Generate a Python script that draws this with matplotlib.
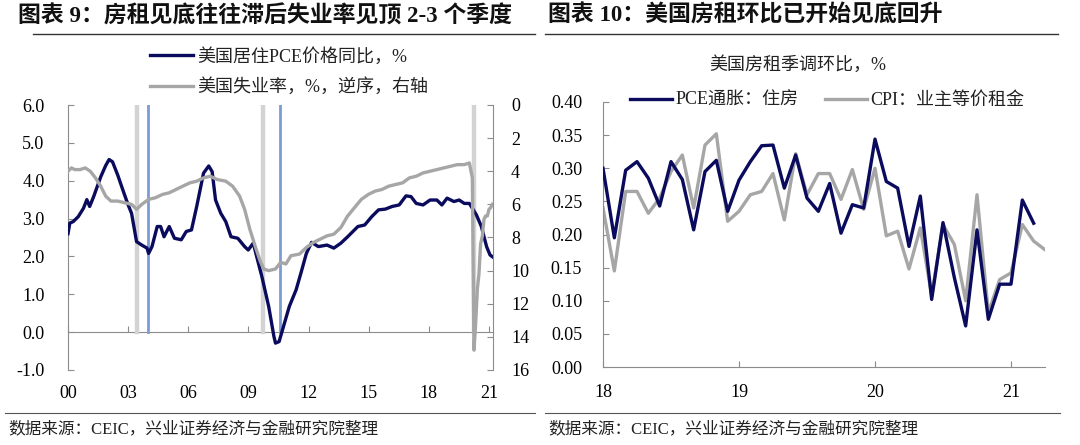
import matplotlib
matplotlib.use('Agg')
import matplotlib.pyplot as plt
from matplotlib.lines import Line2D
from matplotlib.ticker import FormatStrFormatter

CJK = 'Noto Sans CJK SC'
SERIF = 'Liberation Serif'
plt.rcParams['font.family'] = [SERIF, CJK]

NAVY = '#0b0b5e'
GRAY = '#a6a6a6'
AXIS_GRAY = '#8c8c8c'
BAND_GRAY = '#d3d3d3'
BAND_BLUE = '#7d9bd3'

# ---- 图表9: PCE housing yoy (left axis) and unemployment (right axis, inverted) ----
pce_years = [2000.00, 2000.09, 2000.26, 2000.51, 2000.77, 2000.94, 2001.08, 2001.28, 2001.63,
             2001.88, 2002.05, 2002.22, 2002.48, 2002.74, 2003.00, 2003.17, 2003.42, 2003.68,
             2003.94, 2004.02, 2004.19, 2004.45, 2004.62, 2004.79, 2005.05, 2005.31, 2005.65,
             2005.90, 2006.16, 2006.42, 2006.76, 2007.02, 2007.19, 2007.36, 2007.62, 2007.87,
             2008.13, 2008.47, 2008.81, 2008.99, 2009.24, 2009.41, 2009.67, 2010.01, 2010.27,
             2010.35, 2010.53, 2010.70, 2011.04, 2011.38, 2011.64, 2011.89, 2012.15, 2012.49,
             2012.92, 2013.26, 2013.61, 2013.95, 2014.46, 2014.80, 2015.15, 2015.49, 2015.83,
             2016.17, 2016.52, 2016.86, 2017.11, 2017.37, 2017.71, 2018.06, 2018.40, 2018.65,
             2018.91, 2019.25, 2019.51, 2019.77, 2020.02, 2020.37, 2020.62, 2020.88, 2021.05,
             2021.20]
pce_yoy = [2.60, 2.88, 2.92, 3.05, 3.27, 3.50, 3.32, 3.58, 4.10,
           4.40, 4.56, 4.50, 4.15, 3.75, 3.36, 3.14, 2.39, 2.30,
           2.22, 2.08, 2.26, 2.79, 2.79, 2.52, 2.79, 2.48, 2.44,
           2.66, 2.70, 3.32, 4.20, 4.39, 4.24, 3.49, 3.14, 2.92,
           2.52, 2.48, 2.26, 2.17, 2.35, 2.00, 1.47, 0.68, -0.11,
           -0.29, -0.25, 0.06, 0.68, 1.12, 1.60, 2.08, 2.37, 2.26,
           2.30, 2.22, 2.35, 2.52, 2.79, 2.83, 3.05, 3.23, 3.25,
           3.32, 3.36, 3.60, 3.58, 3.40, 3.36, 3.49, 3.49, 3.36,
           3.54, 3.45, 3.49, 3.40, 3.40, 3.10, 2.79, 2.26, 2.04,
           1.98]

unemp_years = [2000.00, 2000.17, 2000.34, 2000.60, 2000.86, 2001.11, 2001.37, 2001.63, 2001.88,
               2002.14, 2002.48, 2002.82, 2003.17, 2003.42, 2003.68, 2004.02, 2004.36, 2004.71,
               2005.05, 2005.39, 2005.73, 2006.08, 2006.42, 2006.76, 2007.10, 2007.44, 2007.87,
               2008.21, 2008.56, 2008.81, 2009.07, 2009.33, 2009.58, 2009.76, 2010.01, 2010.35,
               2010.61, 2010.87, 2011.12, 2011.55, 2011.89, 2012.24, 2012.58, 2012.92, 2013.26,
               2013.61, 2013.95, 2014.29, 2014.63, 2014.98, 2015.32, 2015.66, 2016.00, 2016.34,
               2016.69, 2017.03, 2017.37, 2017.71, 2018.06, 2018.40, 2018.74, 2019.08, 2019.42,
               2019.77, 2020.02, 2020.17, 2020.25, 2020.33, 2020.42, 2020.50, 2020.58, 2020.67,
               2020.75, 2020.83, 2020.92, 2021.00, 2021.08, 2021.17]
unemp_rate = [4.0, 3.8, 3.9, 3.9, 3.8, 4.0, 4.4, 4.9, 5.5,
              5.8, 5.8, 5.9, 6.0, 6.3, 6.0, 5.7, 5.6, 5.4,
              5.3, 5.1, 4.9, 4.7, 4.6, 4.4, 4.3, 4.5, 4.6,
              4.9, 5.5, 6.3, 7.5, 8.5, 9.4, 9.9, 10.0, 9.9,
              9.5, 9.6, 9.1, 9.0, 8.6, 8.3, 8.1, 7.9, 7.8,
              7.4, 6.7, 6.2, 5.7, 5.4, 5.2, 5.1, 4.9, 4.8,
              4.7, 4.4, 4.3, 4.1, 4.0, 3.9, 3.8, 3.7, 3.6,
              3.6, 3.5, 4.4, 14.8, 13.3, 11.1, 10.2, 8.4, 7.9,
              6.9, 6.7, 6.7, 6.3, 6.2, 6.0]

unemp_peaks = [2003.44, 2009.75, 2020.25]
rent_bottoms = [2004.0, 2010.57]

left_xticks = [2000, 2003, 2006, 2009, 2012, 2015, 2018, 2021]
left_xlabels = ['00', '03', '06', '09', '12', '15', '18', '21']
left_yticks = [-1, 0, 1, 2, 3, 4, 5, 6]
right_yticks = [0, 2, 4, 6, 8, 10, 12, 14, 16]

# ---- 图表10: monthly rent mom, Jan 2018 onward ----
pce_housing_mom = [0.300, 0.195, 0.297, 0.310, 0.285, 0.243, 0.310, 0.283, 0.207, 0.295,
                   0.312, 0.235, 0.282, 0.310, 0.334, 0.335, 0.270, 0.320, 0.255, 0.235,
                   0.277, 0.202, 0.245, 0.240, 0.344, 0.280, 0.270, 0.182, 0.258, 0.102,
                   0.218, 0.135, 0.062, 0.207, 0.072, 0.125, 0.125, 0.252, 0.217]
cpi_oer_mom = [0.240, 0.145, 0.265, 0.265, 0.232, 0.255, 0.295, 0.320, 0.240, 0.335,
               0.352, 0.220, 0.235, 0.260, 0.265, 0.292, 0.222, 0.322, 0.260, 0.292,
               0.292, 0.253, 0.298, 0.238, 0.300, 0.198, 0.205, 0.148, 0.210, 0.108,
               0.215, 0.185, 0.100, 0.260, 0.082, 0.132, 0.142, 0.215, 0.190, 0.177]
right_xticks = [0, 12, 24, 36]
right_xlabels = ['18', '19', '20', '21']
right_chart_yticks = [0.0, 0.05, 0.10, 0.15, 0.20, 0.25, 0.30, 0.35, 0.40]

fig = plt.figure(figsize=(10.8, 4.45), dpi=100)

# ---------------- left chart ----------------
ax = fig.add_axes([68 / 1080, 1 - 370 / 445, 425 / 1080, 265 / 445])
ax.set_xlim(2000, 2021.2)
ax.set_ylim(-1, 6)
zero_frac = (0 - (-1)) / 7
for x in unemp_peaks:
    ax.axvline(x, ymin=zero_frac, ymax=1, color=BAND_GRAY, lw=3.2, zorder=1)
for x in rent_bottoms:
    ax.axvline(x, ymin=zero_frac, ymax=1, color=BAND_BLUE, lw=2.0, zorder=1)
pce_line, = ax.plot(pce_years, pce_yoy, color=NAVY, lw=2.4, zorder=3)
ax.set_yticks(left_yticks)
ax.yaxis.set_major_formatter(FormatStrFormatter('%.1f'))
ax.set_xticks(left_xticks, left_xlabels)
ax.tick_params(axis='x', length=0, pad=11, labelsize=13)
ax.tick_params(axis='y', direction='in', length=4, color=AXIS_GRAY, pad=17, labelsize=13)
for s in ['top', 'bottom']:
    ax.spines[s].set_visible(False)
ax.spines['left'].set_color(AXIS_GRAY)
ax.spines['right'].set_visible(False)

sec = ax.secondary_xaxis(zero_frac)
sec.set_xticks(left_xticks)
sec.tick_params(axis='x', direction='in', length=4, color=AXIS_GRAY, labelbottom=False, labeltop=False)
for s in sec.spines.values():
    s.set_color(AXIS_GRAY)

ax2 = ax.twinx()
ax2.set_ylim(16, 0)
un_line, = ax2.plot(unemp_years, unemp_rate, color=GRAY, lw=2.4, zorder=3)
ax2.set_yticks(right_yticks)
ax2.tick_params(axis='y', direction='in', length=4, color=AXIS_GRAY, pad=13, labelsize=13)
for s in ['top', 'bottom', 'left']:
    ax2.spines[s].set_visible(False)
ax2.spines['right'].set_color(AXIS_GRAY)

fig.legend([pce_line, un_line], ['美国居住PCE价格同比，%', '美国失业率，%，逆序，右轴'],
           loc='upper left', bbox_to_anchor=(150 / 1080, 1 - 48 / 445), frameon=False,
           fontsize=13, handlelength=2.4, handletextpad=0.2, labelspacing=0.7,
           borderpad=0, borderaxespad=0, labelcolor='#222222')

# ---------------- right chart ----------------
ax3 = fig.add_axes([603 / 1080, 1 - 367 / 445, 442 / 1080, 265 / 445])
months = list(range(len(cpi_oer_mom)))
l1, = ax3.plot(months[:len(pce_housing_mom)], pce_housing_mom, color=NAVY, lw=2.4, zorder=3)
l2, = ax3.plot(months, cpi_oer_mom, color=GRAY, lw=2.4, zorder=2)
ax3.set_xlim(0, 39)
ax3.set_ylim(0, 0.40)
ax3.set_yticks(right_chart_yticks)
ax3.yaxis.set_major_formatter(FormatStrFormatter('%.2f'))
ax3.set_xticks(right_xticks, right_xlabels)
ax3.tick_params(axis='x', direction='in', length=4, color=AXIS_GRAY, pad=12, labelsize=13)
ax3.tick_params(axis='y', direction='in', length=4, color=AXIS_GRAY, pad=15, labelsize=13)
for s in ['top', 'right']:
    ax3.spines[s].set_visible(False)
for s in ['left', 'bottom']:
    ax3.spines[s].set_color(AXIS_GRAY)

fig.text(798 / 1080, 1 - 65 / 445, '美国房租季调环比，%', ha='center', va='center',
         fontsize=13, color='#222222')
fig.legend([l1, l2], ['PCE通胀：住房', 'CPI：业主等价租金'], ncol=2,
           loc='upper left', bbox_to_anchor=(630 / 1080, 1 - 92 / 445), frameon=False,
           fontsize=13, handlelength=2.3, handletextpad=0.2, columnspacing=1.5,
           borderpad=0, borderaxespad=0, labelcolor='#222222')

# ---------------- titles, rules, sources ----------------
fig.text(18 / 1080, 1 - 16 / 445, '图表 9：房租见底往往滞后失业率见顶 2-3 个季度',
         fontsize=16.5, fontweight='bold', va='center', color='#111111')
fig.text(548 / 1080, 1 - 16 / 445, '图表 10：美国房租环比已开始见底回升',
         fontsize=16.5, fontweight='bold', va='center', color='#111111')
for x0, x1 in [(33, 535), (545, 1058)]:
    fig.add_artist(Line2D([x0 / 1080, x1 / 1080], [1 - 34 / 445] * 2, color='#333333', lw=1))
for x0, x1 in [(5, 535), (545, 1060)]:
    fig.add_artist(Line2D([x0 / 1080, x1 / 1080], [1 - 413 / 445] * 2, color='#555555', lw=0.8))
for x in [8, 548]:
    fig.text(x / 1080, 1 - 429 / 445, '数据来源：CEIC，兴业证券经济与金融研究院整理',
             fontsize=12, va='center', color='#222222')

fig.savefig('out.png', dpi=100)
